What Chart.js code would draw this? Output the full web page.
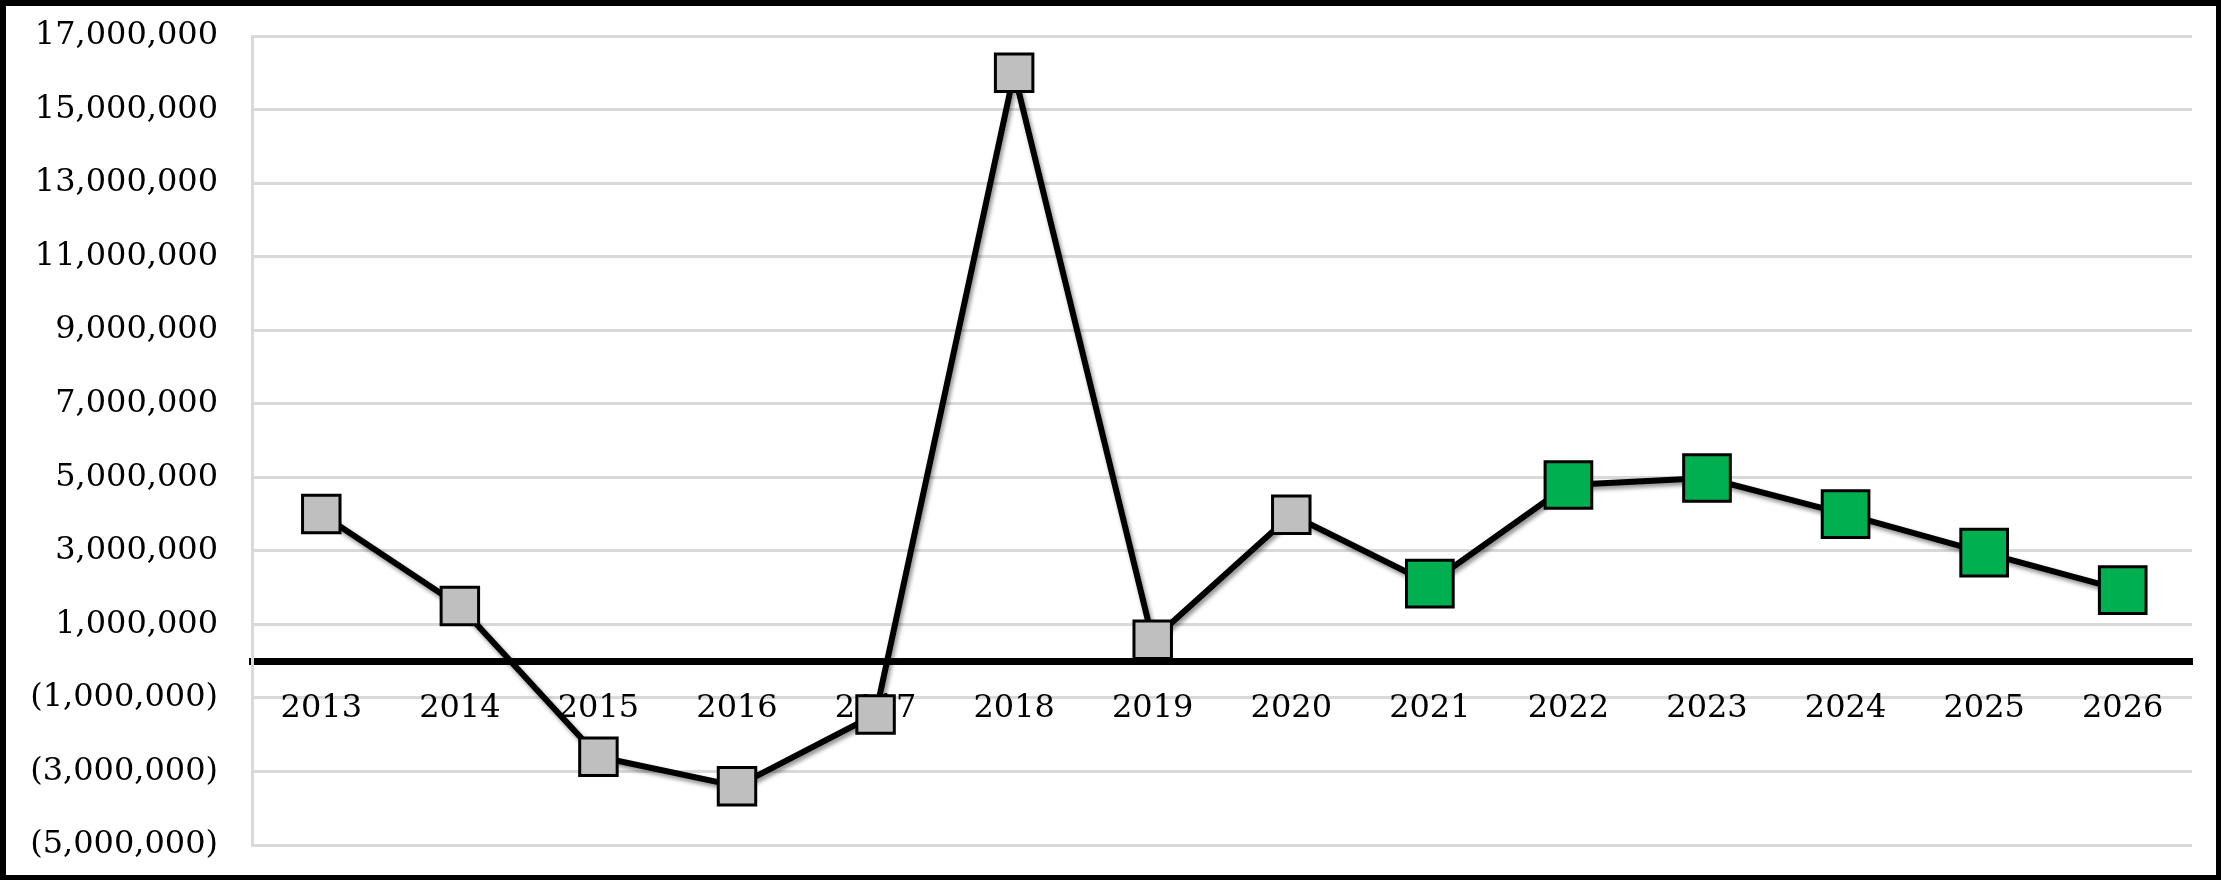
<!DOCTYPE html>
<html>
<head>
<meta charset="utf-8">
<script src="https://cdn.jsdelivr.net/npm/chart.js@4"></script>
<style>
   html, body { margin: 0; padding: 0; background: #fff; }
   #frame { width: 2221px; height: 880px; box-sizing: border-box; border: 6px solid #000; border-right-width: 5px; border-bottom-width: 5px; }
   canvas { display: block; }
</style>
</head>
<body>
<div id="frame"><canvas id="lineChart" width="2210" height="869"></canvas></div>
<script>
// chart data
const years = ['2013', '2014', '2015', '2016', '2017', '2018', '2019', '2020', '2021', '2022', '2023', '2024', '2025', '2026'];
const values = [4000000, 1500000, -2600000, -3400000, -1450000, 16000000, 580000, 3980000, 2110000, 4790000, 4980000, 4000000, 2950000, 1930000];
const firstForecastYear = '2021';
const yTicks = { min: -5000000, max: 17000000, step: 2000000 };

const gray = '#bfbfbf';
const green = '#00b050';
const gridGray = '#d9d9d9';
const forecastStart = years.indexOf(firstForecastYear);

function fmt(v) {
   let s = Math.abs(v).toLocaleString('en-US');
   return v < 0 ? '(' + s + ')' : s;
}

// soft shadow under the line only
const lineShadow = {
   id: 'lineShadow',
   beforeDatasetDraw(chart, args) {
      if (args.index !== 0) return;
      const c = chart.ctx;
      c.save();
      c.shadowColor = 'rgba(0,0,0,0.45)';
      c.shadowBlur = 4;
      c.shadowOffsetX = 2;
      c.shadowOffsetY = 3;
   },
   afterDatasetDraw(chart, args) {
      if (args.index === 0) chart.ctx.restore();
   }
};

const font = { family: '"DejaVu Serif", serif', size: 32 };

new Chart(document.getElementById('lineChart'), {
   type: 'line',
   data: {
      labels: years,
      datasets: [{
         data: values,
         borderColor: '#000',
         borderWidth: 6,
         pointRadius: 0,
         tension: 0,
         order: 1
      }, {
         data: values,
         showLine: false,
         pointStyle: 'rect',
         pointRadius: ctx => ctx.dataIndex >= forecastStart ? 33 : 26.5,
         pointBackgroundColor: ctx => ctx.dataIndex >= forecastStart ? green : gray,
         pointBorderColor: '#000',
         pointBorderWidth: 3,
         order: 0
      }]
   },
   options: {
      responsive: false,
      animation: false,
      devicePixelRatio: 1,
      layout: { autoPadding: false, padding: { left: 0, top: 30, right: 24, bottom: 30 } },
      plugins: { legend: { display: false }, tooltip: { enabled: false } },
      scales: {
         x: {
            position: { y: 0 },
            offset: true,
            grid: { display: false, drawTicks: false },
            border: { display: true, color: '#000', width: 7 },
            ticks: { color: '#000', font: font, padding: 28, maxRotation: 0, autoSkip: false }
         },
         y: {
            min: yTicks.min,
            max: yTicks.max,
            grid: { color: gridGray, lineWidth: 3, drawTicks: true, tickLength: 34, tickColor: 'rgba(0,0,0,0)' },
            border: { display: true, color: gridGray, width: 3 },
            ticks: { stepSize: yTicks.step, color: '#000', font: font, padding: 0, callback: v => fmt(v) },
            afterFit(scale) { scale.width = 246; }
         }
      }
   },
   plugins: [lineShadow]
});
</script>
</body>
</html>
